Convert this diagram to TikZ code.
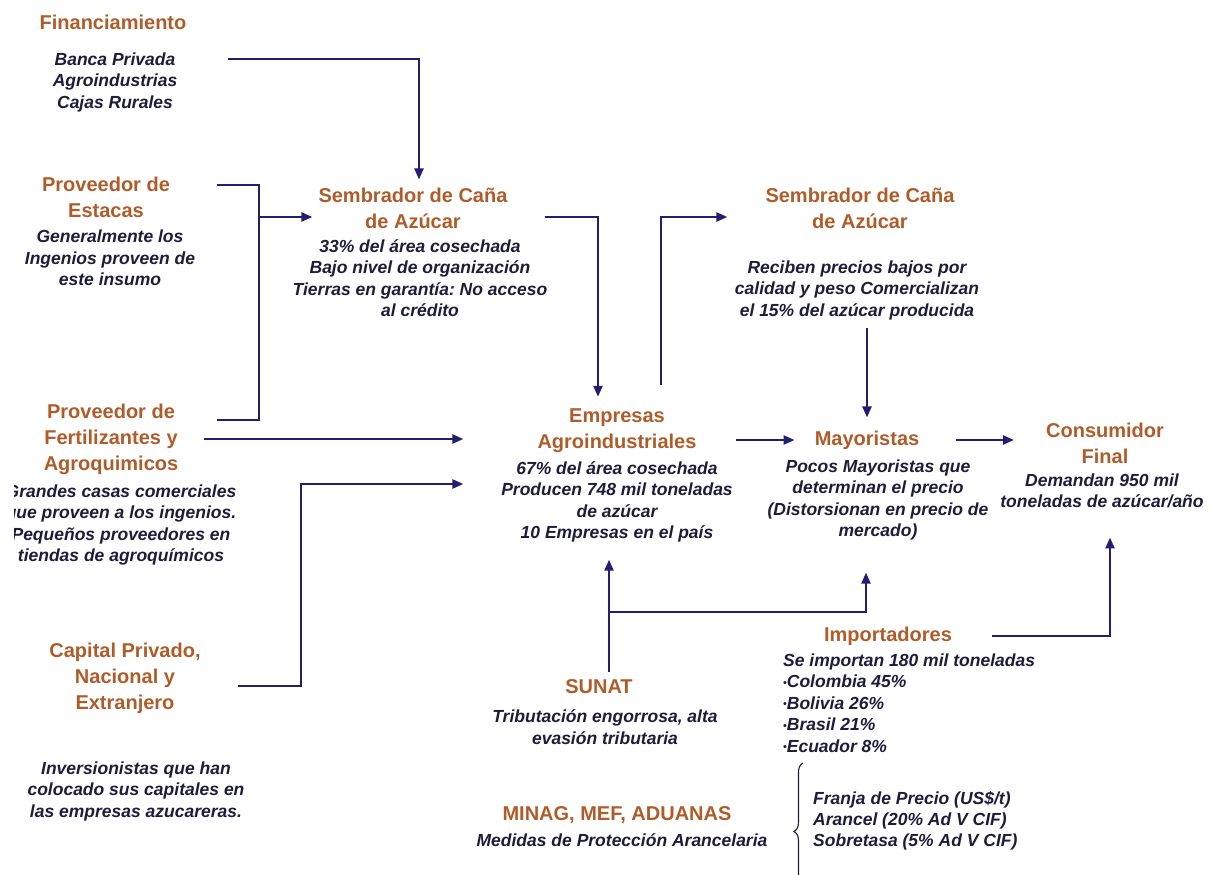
\documentclass[tikz,border=0pt]{standalone}
\usepackage{fontspec}
\setmainfont{Liberation Sans}
\usetikzlibrary{calc,arrows.meta,decorations.pathreplacing}
\definecolor{titbrown}{RGB}{176,92,42}
\definecolor{txtnavy}{RGB}{30,28,56}
\definecolor{arrnavy}{RGB}{36,30,112}
\tikzset{
	actor/.style={inner sep=0pt, align=center, text=titbrown, font=\fontsize{20}{26}\selectfont\bfseries\frenchspacing},
	note/.style={inner sep=0pt, align=center, text=txtnavy, font=\fontsize{17.5}{21.5}\selectfont\bfseries\itshape\frenchspacing},
	flow/.style={draw=arrnavy, line width=2.3pt, -{Triangle[length=11pt,width=9pt]}},
	link/.style={draw=arrnavy, line width=2.3pt},
	brace/.style={draw=txtnavy, line width=1.1pt, decorate, decoration={brace,amplitude=9pt}}
}
\newcommand{\impdot}{\raisebox{0.15ex}{\scalebox{0.6}{•}}}

\begin{document}
\begin{tikzpicture}[x=1pt,y=-1pt]
		%%%%% START %%%%%
		\useasboundingbox (0,0) rectangle (1211,875);
		\fill[white] (0,0) rectangle (1211,875);
		
		\node[actor] (finT) at (113,22) {Financiamiento};
		\node[note] (finD) at (115,82) {Banca Privada\\Agroindustrias\\Cajas Rurales};
		
		\node[actor] (estT) at (106,197) {Proveedor de\\Estacas};
		\node[note] (estD) at (110,258) {Generalmente los\\Ingenios proveen de\\este insumo};
		
		\node[actor] (ferT) at (111,439) {Proveedor de\\Fertilizantes y\\Agroquimicos};
		\node[note] (ferD) at (121,525) {Grandes casas comerciales\\que proveen a los ingenios.\\Pequeños proveedores en\\tiendas de agroquímicos};
		\fill[white] (0,478) rectangle (14,570);
		
		\node[actor] (capT) at (125,678) {Capital Privado,\\Nacional y\\Extranjero};
		\node[note] (capD) at (136,791) {Inversionistas que han\\colocado sus capitales en\\las empresas azucareras.};
		
		\node[actor] (semLT) at (413,208) {Sembrador de Caña\\de Azúcar};
		\node[note] (semLD) at (420,278) {33\% del área cosechada\\Bajo nivel de organización\\Tierras en garantía: No acceso\\al crédito};
		
		\node[actor] (semRT) at (860,208) {Sembrador de Caña\\de Azúcar};
		\node[note] (semRD) at (857,290) {Reciben precios bajos por\\calidad y peso Comercializan\\el 15\% del azúcar producida};
		
		\node[actor] (empT) at (617,431) {Empresas\\Agroindustriales};
		\node[note] (empD) at (617,502) {67\% del área cosechada\\Producen 748 mil toneladas\\de azúcar\\10 Empresas en el país};
		
		\node[actor] (mayT) at (867,440) {Mayoristas};
		\node[note] (mayD) at (878,500) {Pocos Mayoristas que\\determinan el precio\\(Distorsionan en precio de\\mercado)};
		
		\node[actor] (conT) at (1105,443) {Consumidor\\Final};
		\node[note] (conD) at (1102,491) {Demandan 950 mil\\toneladas de azúcar/año};
		
		\node[actor] (impT) at (888,636) {Importadores};
		\node[note, align=left, anchor=west] (impD) at (783,703) {Se importan 180 mil toneladas\\\impdot Colombia 45\%\\\impdot Bolivia 26\%\\\impdot Brasil 21\%\\\impdot Ecuador 8\%};
		
		\node[actor] (sunT) at (599,687) {SUNAT};
		\node[note] (sunD) at (605,727) {Tributación engorrosa, alta\\evasión tributaria};
		
		\node[actor] (minT) at (617,815) {MINAG, MEF, ADUANAS};
		\node[note] (minD) at (622,840) {Medidas de Protección Arancelaria};
		\node[note, align=left, anchor=west, font=\fontsize{17.5}{21}\selectfont\bfseries\itshape] (tarD) at (813,821) {Franja de Precio (US\$/t)\\Arancel (20\% Ad V CIF)\\Sobretasa (5\% Ad V CIF)};
		\draw[brace] (803,900) -- (803,763);
		
		% turning points
		\coordinate (finOut) at (228,59);
		\coordinate (estOut) at (217,185);
		\coordinate (ferOut) at (217,420);
		\coordinate (brkLow) at (259,420);
		\coordinate (brkMid) at (259,217);
		\coordinate (semOut) at (545,217);
		\coordinate (capOut) at (238,686);
		\coordinate (capTurn) at (301,484);
		\coordinate (sunJoin) at (609,612);
		
		\draw[flow, shorten >=8pt] (finOut) -| ([xshift=6pt]semLT.north);
		\draw[link] (estOut) -| (brkLow) -- (ferOut);
		\draw[flow, shorten >=6pt] (brkMid) -- (brkMid -| semLT.west);
		\draw[flow, shorten >=12pt] (semOut) -| ([xshift=-19pt]empT.north);
		\draw[flow, shorten <=24pt, shorten >=38pt] ([xshift=44pt]empT.north) |- (semOut -| semRT.west);
		\draw[flow, shorten <=8pt, shorten >=13pt] (semRD.south -| mayT.north) -- (mayT.north);
		
		\draw[flow, shorten <=26pt, shorten >=74pt] (ferT.east) -- (ferT.east -| empT.west);
		\draw[flow, shorten >=74pt] (capOut) -| (capTurn) -- (capTurn -| empT.west);
		
		\draw[flow, shorten <=39pt, shorten >=20pt] (empT.east |- mayT.west) -- (mayT.west);
		\draw[flow, shorten <=37pt, shorten >=32pt] (mayT.east) -- (mayT.east -| conT.west);
		
		\draw[flow, shorten <=8pt, shorten >=17pt] (sunJoin |- sunT.north) -- (sunJoin |- empD.south);
		\draw[flow, shorten >=32pt] (sunJoin) -| ([xshift=-12pt]mayD.south);
		\draw[flow, shorten <=40pt, shorten >=29pt] (impT.east) -| ([xshift=8pt]conD.south);
		
		%%%%% END %%%%%
\end{tikzpicture}
\end{document}
